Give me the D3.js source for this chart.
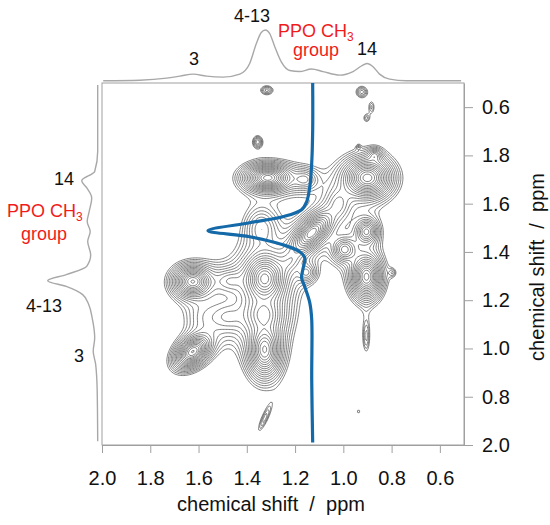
<!DOCTYPE html>
<html>
<head>
<meta charset="UTF-8">
<title>2D NMR contour map</title>
<script src="https://d3js.org/d3.v7.min.js"></script>
<style>
body { margin: 0; background: #fff; }
text { font-family: "Liberation Sans", Arial, sans-serif; }
</style>
</head>
<body>
<script>

// axis ticks (labels as printed on the figure)
var xTicks = [2.0, 1.8, 1.6, 1.4, 1.2, 1.0, 0.8, 0.6];
var xTickLabels = ["2.0", "1.8", "1.6", "1.4", "1.2", "1.0", "0.8", "0.6"];
var yTicks = [0.6, 0.8, 1.0, 1.2, 1.4, 1.6, 1.8, 2.0];
var yTickLabels = ["0.6", "1.8", "1.6", "1.4", "1.2", "1.0", "0.8", "2.0"];
var minorTicks = [1.9, 1.7, 1.5, 1.3, 1.1, 0.9, 0.7];

// cross peaks of the 2D map (ppm, ppm, widths in ppm, correlation, relative amplitude)
// rows: main signals / weak isolated signals / ridges between signals
var peakX   = [1.313, 0.900, 1.131, 1.326, 1.624, 0.904, 1.624, 1.326,
               1.355, 1.317, 0.924, 0.883, 0.904, 1.326, 0.937, 0.937,
               0.995, 0.904, 0.905, 1.152, 1.16, 1.34, 0.870, 1.47, 1.48, 1.33, 1.22, 1.02, 1.58, 0.796];
var peakY   = [0.893, 0.893, 1.121, 1.311, 1.323, 1.303, 1.613, 1.605,
               0.744, 0.530, 0.537, 0.600, 0.645, 1.890, 1.861, 0.765,
               1.190, 1.116, 1.550, 1.286, 0.900, 1.100, 0.800, 1.320, 1.470, 1.460, 1.240, 1.000, 1.470, 1.286];
var peakSx  = [0.035, 0.036, 0.033, 0.033, 0.031, 0.024, 0.027, 0.027,
               0.012, 0.018, 0.016, 0.010, 0.010, 0.020, 0.007, 0.005,
               0.025, 0.022, 0.011, 0.022, 0.030, 0.040, 0.015, 0.040, 0.050, 0.040, 0.030, 0.030, 0.050, 0.010];
var peakSy  = [0.020, 0.030, 0.033, 0.040, 0.025, 0.035, 0.025, 0.045,
               0.015, 0.013, 0.016, 0.020, 0.013, 0.040, 0.009, 0.006,
               0.025, 0.025, 0.050, 0.022, 0.025, 0.050, 0.015, 0.030, 0.040, 0.040, 0.030, 0.040, 0.050, 0.012];
var peakRho = [0, 0, 0.6, 0, 0, 0, 0.4, 0,
               0, 0, 0, 0, 0, 0.85, 0, 0,
               0, 0, 0, 0, 0, 0, 0, 0, 0, 0, 0.4, 0, 0, 0];
var peakAmp = [1.0, 1.0, 0.85, 0.95, 0.75, 0.8, 0.9, 0.75,
               0.11, 0.09, 0.09, 0.055, 0.055, 0.07, 0.05, 0.045,
               0.25, 0.3, 0.07, 0.12, 0.12, 0.12, 0.12, 0.12, 0.1, 0.3, 0.1, 0.1, 0.05, 0.05];

// projection along the top (ppm, relative intensity)
var topPpm = [1.995, 1.843, 1.732, 1.677, 1.622, 1.567, 1.498, 1.429, 1.388, 1.360, 1.340, 1.323, 1.305, 1.284, 1.257, 1.222, 1.181, 1.132, 1.084, 1.015, 0.960, 0.925, 0.902, 0.878, 0.850, 0.808, 0.739, 0.512];
var topInt = [0, 1, 5, 9, 13, 9, 7, 13, 34, 74, 95, 100, 93, 67, 37, 20, 18, 23, 18, 11, 18, 29, 34, 28, 13, 3, 0, 0];

// projection along the left side
var leftPpm = [0.508, 0.784, 0.867, 0.905, 0.934, 0.976, 1.032, 1.074, 1.115, 1.157, 1.212, 1.260, 1.294, 1.319, 1.343, 1.377, 1.418, 1.474, 1.556, 1.612, 1.667, 1.777, 1.984];
var leftInt = [0, 0, 6, 32, 22, 12, 17, 21, 15, 20, 14, 22, 63, 100, 63, 30, 18, 11, 6, 9, 4, 1, 0];

// slice through the PPO CH3 signal (y ppm, x ppm)
var sliceY = [0.500, 0.694, 0.831, 0.930, 0.992, 1.025, 1.054, 1.079, 1.112, 1.137, 1.170, 1.199, 1.224, 1.274, 1.307, 1.344, 1.411, 1.481, 1.729, 1.990];
var sliceX = [1.127, 1.127, 1.131, 1.139, 1.152, 1.173, 1.251, 1.388, 1.561, 1.388, 1.251, 1.181, 1.160, 1.168, 1.173, 1.160, 1.139, 1.131, 1.131, 1.127];

var width = 550,
    height = 525;

var svg = d3.select('body')
  .append('svg')
  .attr('width', width)
  .attr('height', height);

var x = d3.scaleLinear().domain([2.0, 0.5]).range([102, 464]);
var y = d3.scaleLinear().domain([0.5, 2.0]).range([83, 445]);
var topScale = d3.scaleLinear().domain([0, 100]).range([80.7, 30]);
var leftScale = d3.scaleLinear().domain([0, 100]).range([97.7, 47.7]);

// --- contour field from the cross peaks (heavy-tailed line shape)
var step = 1.5;
var nx = Math.round((x.range()[1] - x.range()[0]) / step),
    ny = Math.round((y.range()[1] - y.range()[0]) / step);
var values = new Array(nx * ny);
for (var j = 0; j < ny; j++) {
  for (var i = 0; i < nx; i++) {
    var px = x.invert(x.range()[0] + (i + 0.5) * step),
        py = y.invert(y.range()[0] + (j + 0.5) * step);
    var v = 0;
    for (var k = 0; k < peakX.length; k++) {
      var dx = (px - peakX[k]) / peakSx[k],
          dy = (py - peakY[k]) / peakSy[k],
          r = peakRho[k];
      var q = (dx * dx - 2 * r * dx * dy + dy * dy) / (1 - r * r);
      var s = 1 + q / 4;
      v += peakAmp[k] / (s * s);
    }
    values[i + j * nx] = v;
  }
}
var levels = d3.range(0, 18).map(function(n){ return 0.04 * Math.pow(1.2, n); });
var contours = d3.contours().size([nx, ny]).thresholds(levels)(values);

var toPx = d3.geoIdentity().scale(step).translate([x.range()[0], y.range()[0]]);

svg.append('g')
  .selectAll('path')
  .data(contours)
  .enter()
  .append('path')
  .attr('d', d3.geoPath(toPx))
  .attr('fill', 'none')
  .attr('stroke', '#555')
  .attr('stroke-width', 0.75);

// frame
svg.append('rect')
  .attr('x', 102).attr('y', 83)
  .attr('width', 362).attr('height', 362)
  .attr('fill', 'none')
  .attr('stroke', '#a0a0a0');

// axes
function styleAxis(g) {
  g.selectAll('.domain').attr('stroke', '#a0a0a0');
  g.selectAll('.tick line').attr('stroke', '#a0a0a0');
}
var bottom = svg.append('g').attr('transform', 'translate(0,445)');
bottom.call(d3.axisBottom(x).tickValues(minorTicks).tickSize(4).tickSizeOuter(0).tickFormat(''));
bottom.call(d3.axisBottom(x).tickValues(xTicks).tickSize(8).tickSizeOuter(0)
  .tickFormat(function(d, i){ return xTickLabels[i]; }));
bottom.selectAll('text').attr('y', 40).attr('dy', 0)
  .attr('font-size', 20).attr('fill', '#111').style('font-family', '"Liberation Sans", Arial, sans-serif');
styleAxis(bottom);

var right = svg.append('g').attr('transform', 'translate(464,0)');
right.call(d3.axisRight(y).tickValues(minorTicks).tickSize(4).tickSizeOuter(0).tickFormat(''));
right.call(d3.axisRight(y).tickValues(yTicks).tickSize(9).tickSizeOuter(0)
  .tickFormat(function(d, i){ return yTickLabels[i]; }));
right.selectAll('text').attr('x', 18)
  .attr('font-size', 20).attr('fill', '#111').style('font-family', '"Liberation Sans", Arial, sans-serif');
styleAxis(right);

svg.append('text')
  .attr('x', 271).attr('y', 511)
  .attr('text-anchor', 'middle')
  .attr('font-size', 20).attr('fill', '#111')
  .style('white-space', 'pre')
  .text('chemical shift  /  ppm');

svg.append('text')
  .attr('transform', 'translate(544,267) rotate(-90)')
  .attr('text-anchor', 'middle')
  .attr('font-size', 20).attr('fill', '#111')
  .style('white-space', 'pre')
  .text('chemical shift  /  ppm');

// projections
svg.append('path')
  .datum(d3.zip(topPpm, topInt))
  .attr('d', d3.line().x(function(d){ return x(d[0]); }).y(function(d){ return topScale(d[1]); }).curve(d3.curveMonotoneX))
  .attr('fill', 'none').attr('stroke', '#a8a8a8').attr('stroke-width', 1.4);

svg.append('path')
  .datum(d3.zip(leftPpm, leftInt))
  .attr('d', d3.line().x(function(d){ return leftScale(d[1]); }).y(function(d){ return y(d[0]); }).curve(d3.curveMonotoneY))
  .attr('fill', 'none').attr('stroke', '#a8a8a8').attr('stroke-width', 1.4);

// slice
svg.append('path')
  .datum(d3.zip(sliceY, sliceX))
  .attr('d', d3.line().x(function(d){ return x(d[1]); }).y(function(d){ return y(d[0]); }).curve(d3.curveCatmullRom.alpha(0.5)))
  .attr('fill', 'none').attr('stroke', '#1469a8').attr('stroke-width', 3.2)
  .attr('stroke-linejoin', 'round');

// annotations
var red = '#f01c1c';
function label(tx, ty, txt, color, anchor) {
  return svg.append('text').attr('x', tx).attr('y', ty)
    .attr('font-size', 18).attr('fill', color)
    .attr('text-anchor', anchor || 'middle').text(txt);
}
function ppoLabel(tx, ty) {
  var t = svg.append('text').attr('x', tx).attr('y', ty)
    .attr('font-size', 18).attr('fill', red);
  t.append('tspan').text('PPO CH');
  t.append('tspan').attr('dy', 4).attr('font-size', 12).text('3');
}
label(194, 65, '3', '#111');
label(252, 22, '4-13', '#111');
ppoLabel(278, 37);
label(316, 56, 'group', red);
label(367, 55, '14', '#111');

label(64, 185, '14', '#111');
ppoLabel(7, 217);
label(44, 240, 'group', red);
label(44, 312, '4-13', '#111');
label(79, 362, '3', '#111');

</script>
</body>
</html>
